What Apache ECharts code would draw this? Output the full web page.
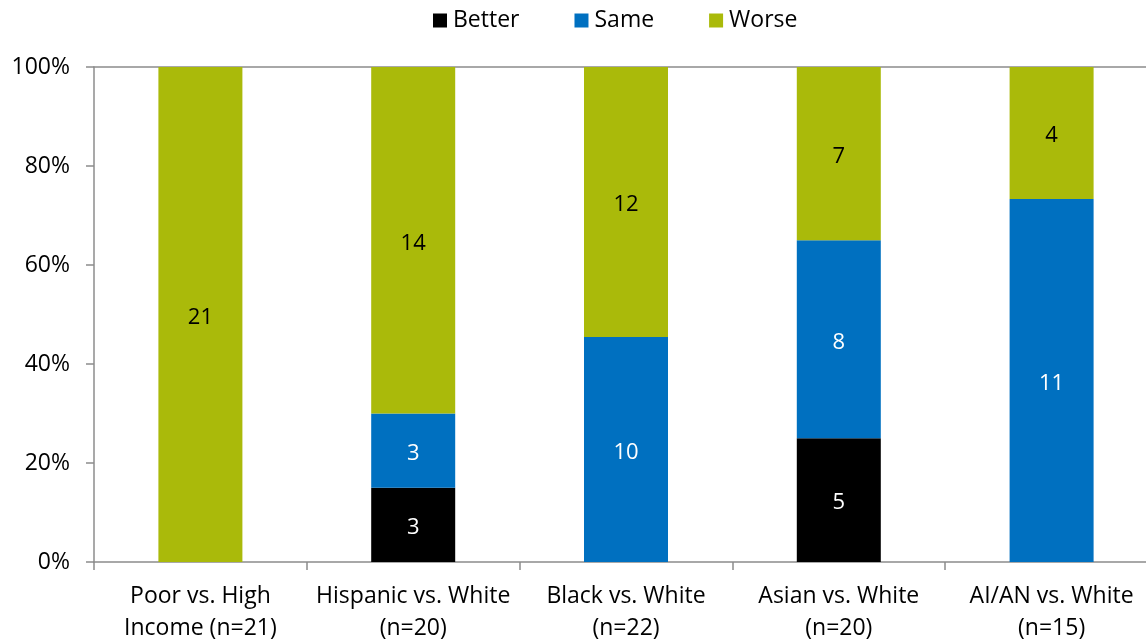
<!DOCTYPE html>
<html><head><meta charset="utf-8">
<script src="https://cdn.jsdelivr.net/npm/echarts@6/dist/echarts.min.js"></script>
<style>html,body{margin:0;padding:0;background:#fff}#c{width:1146px;height:643px}</style>
</head><body><div id="c"></div>
<script>
const categories = ['Poor vs. High\nIncome (n=21)', 'Hispanic vs. White\n(n=20)', 'Black vs. White\n(n=22)', 'Asian vs. White\n(n=20)', 'AI/AN vs. White\n(n=15)'];
const better = [0, 3, 0, 5, 0];
const same = [0, 3, 10, 8, 11];
const worse = [21, 14, 12, 7, 4];
const yTicks = ['0%', '20%', '40%', '60%', '80%', '100%'];

const totals = categories.map((_, i) => better[i] + same[i] + worse[i]);
const toData = arr => arr.map((v, i) => ({ value: v / totals[i] * 100, count: v }));
const FONT = 'Open Sans';
function series(name, arr, color, textColor) {
  return {
    name, type: 'bar', stack: 'all', data: toData(arr), barWidth: 84,
    itemStyle: { color },
    label: {
      show: true, position: 'inside', offset: [0, 3], color: textColor, fontFamily: FONT, fontSize: 22,
      formatter: p => p.data.count ? String(p.data.count) : ''
    }
  };
}
const chart = echarts.init(document.getElementById('c'));
chart.setOption({
  animation: false,
  textStyle: { fontFamily: FONT },
  legend: {
    top: 4, left: 428, itemWidth: 14, itemHeight: 14, itemGap: 55,
    textStyle: { fontFamily: FONT, fontSize: 23, color: '#000', padding: [0, 0, 0, 1] },
    data: [{ name: 'Better', icon: 'rect' }, { name: 'Same', icon: 'rect' }, { name: 'Worse', icon: 'rect' }]
  },
  grid: { left: 94, width: 1064, top: 67, bottom: 81, outerBoundsMode: 'none', containLabel: false },
  xAxis: [{
    type: 'category', data: categories,
    axisLine: { lineStyle: { color: '#8c8c8c', width: 1.5 } },
    axisTick: { show: true, length: 8, lineStyle: { color: '#8c8c8c', width: 1.5 } },
    axisLabel: { color: '#000', fontSize: 23, fontFamily: FONT, lineHeight: 32, margin: 18, interval: 0 }
  }, {
    type: 'category', data: categories, position: 'top',
    axisLine: { lineStyle: { color: '#8c8c8c', width: 1.5 } },
    axisTick: { show: false }, axisLabel: { show: false }
  }],
  yAxis: {
    type: 'value', min: 0, max: 100, interval: 20,
    axisLine: { show: true, lineStyle: { color: '#8c8c8c', width: 1.5 } },
    axisTick: { show: true, length: 8, lineStyle: { color: '#8c8c8c', width: 1.5 } },
    splitLine: { show: false },
    axisLabel: { color: '#000', fontSize: 23, fontFamily: FONT, margin: 24, formatter: v => yTicks[Math.round(v / 20)] }
  },
  series: [
    series('Better', better, '#000000', '#ffffff'),
    series('Same', same, '#0070C0', '#ffffff'),
    series('Worse', worse, '#AABA0A', '#000000')
  ]
});
</script></body></html>
